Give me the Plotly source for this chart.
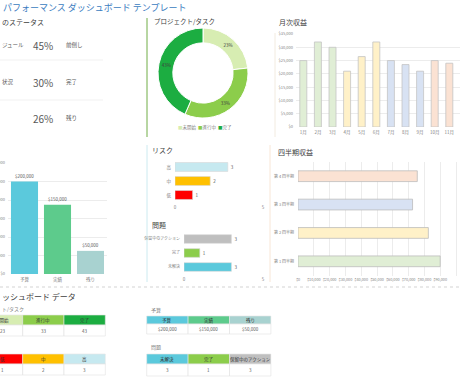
import plotly.graph_objects as go

W, H = 460, 380
def X(p): return p / W
def Y(p): return 1 - p / H

FONT = "Noto Sans CJK JP"
GRID = "#ececec"
TICK = dict(size=4.5, color="#7f7f7f", family=FONT)

# ---------------- data ----------------
title_text = "パフォーマンス ダッシュボード テンプレート"
status_heading = "のステータス"
status_labels = ["ジュール", "状況", ""]
status_pct = [45, 30, 26]
status_desc = ["前倒し", "完了", "残り"]

task_title = "プロジェクト/タスク"
task_labels = ["未開始", "進行中", "完了"]
task_values = [23, 33, 43]
task_colors = ["#d7edb2", "#8ccd4b", "#1cad41"]

month_title = "月次収益"
months = ["1月", "2月", "3月", "4月", "5月", "6月", "7月", "8月", "9月", "10月", "11月"]
month_rev = [25000, 32000, 30000, 21000, 26500, 32000, 25000, 23500, 21000, 25000, 24000]
quarter_palette = ["#e0eed5", "#fff1c8", "#d8e2f3", "#fbe2d3"]

budget_labels = ["予算", "実績", "残り"]
budget_values = [200000, 150000, 50000]
budget_colors = ["#5bc9dc", "#5dcb8c", "#a8d2d0"]

risk_title = "リスク"
risk_labels = ["低", "中", "高"]
risk_values = [1, 2, 3]
risk_colors = ["#ff0000", "#ffc000", "#c6e9f0"]

issue_title = "問題"
issue_labels = ["未解決", "完了", "保留中のアクション"]
issue_values = [3, 1, 3]
issue_colors = ["#5bc9dc", "#8ccd4b", "#bfbfbf"]

quarter_title = "四半期収益"
quarters = ["第 1 四半期", "第 2 四半期", "第 3 四半期", "第 4 四半期"]
quarter_rev = [90000, 82500, 72500, 75500]

data_title = "ッシュボード データ"
task_table_title = "ト/タスク"
budget_table_title = "予算"
issue_table_title = "問題"

fig = go.Figure()

# ---------------- donut ----------------
fig.add_trace(go.Pie(
    labels=task_labels, values=task_values, hole=0.67, sort=False,
    direction="clockwise", rotation=0,
    marker=dict(colors=task_colors, line=dict(color="white", width=1)),
    texttemplate="%{percent:.0%}", textposition="inside",
    insidetextfont=dict(size=4.5, color="#404040", family=FONT),
    domain=dict(x=[X(158), X(248)], y=[Y(118), Y(28)]),
    showlegend=False, hoverinfo="label+value"))

# ---------------- monthly revenue ----------------
mcolors = [quarter_palette[i // 3] for i in range(len(months))]
fig.add_trace(go.Bar(
    x=months, y=month_rev, marker=dict(color=mcolors, line=dict(color="#c4c4c4", width=0.8)),
    width=0.48, xaxis="x", yaxis="y", showlegend=False))

# ---------------- budget ----------------
fig.add_trace(go.Bar(
    x=budget_labels, y=budget_values, marker=dict(color=budget_colors, line=dict(width=0)),
    width=0.82, text=[f"${v:,}" for v in budget_values], textposition="outside",
    textfont=dict(size=4.5, color="#595959", family=FONT), cliponaxis=False,
    xaxis="x2", yaxis="y2", showlegend=False))

# ---------------- risk ----------------
fig.add_trace(go.Bar(
    y=risk_labels, x=risk_values, orientation="h",
    marker=dict(color=risk_colors, line=dict(color="#d9d9d9", width=0.6)),
    width=0.64, text=[str(v) for v in risk_values], textposition="outside",
    textfont=dict(size=4.5, color="#595959", family=FONT), cliponaxis=False,
    xaxis="x3", yaxis="y3", showlegend=False))

# ---------------- issues ----------------
fig.add_trace(go.Bar(
    y=issue_labels, x=issue_values, orientation="h",
    marker=dict(color=issue_colors, line=dict(color="#d9d9d9", width=0.6)),
    width=0.62, text=[str(v) for v in issue_values], textposition="outside",
    textfont=dict(size=4.5, color="#595959", family=FONT), cliponaxis=False,
    xaxis="x4", yaxis="y4", showlegend=False))

# ---------------- quarterly ----------------
fig.add_trace(go.Bar(
    y=quarters, x=quarter_rev, orientation="h",
    marker=dict(color=quarter_palette, line=dict(color="#bdbdbd", width=0.8)),
    width=0.38, xaxis="x5", yaxis="y5", showlegend=False))

ax_common = dict(zeroline=False, showline=False, ticks="", fixedrange=True,
                 automargin=False, tickangle=0)

fig.update_layout(
    template="none",
    width=W, height=H, margin=dict(l=0, r=0, t=0, b=0, pad=0),
    paper_bgcolor="white", plot_bgcolor="white", showlegend=False,
    font=dict(family=FONT, color="#404040"),
    xaxis=dict(domain=[X(296), 1], range=[-0.5, -0.5 + (460 - 296) / 14.6],
               showgrid=False, ticklabelstandoff=1, tickfont=TICK, **ax_common),
    yaxis=dict(domain=[Y(127), Y(34)], range=[0, 35000], dtick=5000, tickprefix="$",
               tickformat=",", showgrid=True, gridcolor=GRID, gridwidth=0.6,
               ticklabelstandoff=2, tickfont=dict(TICK, size=4), **ax_common),
    xaxis2=dict(domain=[X(8), X(107)], showgrid=False, anchor="y2",
                ticklabelstandoff=1, tickfont=TICK, **ax_common),
    yaxis2=dict(domain=[Y(274), Y(163)], range=[0, 240000], dtick=40000, tickprefix="$",
                tickformat=",", showgrid=True, gridcolor=GRID, gridwidth=0.6, anchor="x2",
                ticklabelstandoff=2, tickfont=dict(TICK, size=4), **ax_common),
    xaxis3=dict(domain=[X(175), X(263)], range=[0, 5], tickvals=[0, 5], showgrid=False,
                anchor="y3", ticklabelstandoff=1, tickfont=TICK, **ax_common),
    yaxis3=dict(domain=[Y(202), Y(160)], showgrid=False, anchor="x3",
                ticklabelstandoff=3, tickfont=TICK, **ax_common),
    xaxis4=dict(domain=[X(184), X(263)], range=[0, 5], tickvals=[0, 5], showgrid=False,
                anchor="y4", ticklabelstandoff=1, tickfont=TICK, **ax_common),
    yaxis4=dict(domain=[Y(274), Y(232)], showgrid=False, anchor="x4",
                ticklabelstandoff=3, tickfont=dict(TICK, size=4), **ax_common),
    xaxis5=dict(domain=[X(298), 1], range=[0, (460 - 298) / 158 * 100000], dtick=10000,
                tickprefix="$", tickformat=",", showgrid=True, gridcolor=GRID, gridwidth=0.6,
                anchor="y5", ticklabelstandoff=1, tickfont=dict(TICK, size=3.8), **ax_common),
    yaxis5=dict(domain=[Y(275.5), Y(162)], showgrid=False, anchor="x5",
                ticklabelstandoff=3, tickfont=dict(TICK, size=4), **ax_common),
)

ann = []
shapes = []

def text(x, y, s, size, color="#404040", anchor="left", bold=False):
    ann.append(dict(xref="paper", yref="paper", x=X(x), y=Y(y), text=(f"<b>{s}</b>" if bold else s),
                    showarrow=False, xanchor=anchor, yanchor="middle",
                    font=dict(size=size, color=color, family=FONT)))

def line(x0, y0, x1, y1, color, width=1, dash="solid"):
    shapes.append(dict(type="line", xref="paper", yref="paper", x0=X(x0), y0=Y(y0),
                       x1=X(x1), y1=Y(y1), line=dict(color=color, width=width, dash=dash)))

def rect(x0, y0, x1, y1, fill, lc="#dcdcdc"):
    shapes.append(dict(type="rect", xref="paper", yref="paper", x0=X(x0), y0=Y(y0),
                       x1=X(x1), y1=Y(y1), fillcolor=fill, line=dict(color=lc, width=0.6),
                       layer="below"))

# title
text(1, 8, title_text, 9, "#3a7cc0")

# status panel
text(0, 22, status_heading, 7, "#404040")
row_y = [45, 82, 118]
for lab, pct, desc, y in zip(status_labels, status_pct, status_desc, row_y):
    if lab:
        text(0, y, lab, 5.5, "#595959")
    text(43, y, f"{pct}%", 10, "#595959", anchor="center")
    text(64, y, desc, 5.5, "#595959")
line(0, 60, 103, 60, "#ededed", 0.8)
line(0, 100, 103, 100, "#ededed", 0.8)
line(147, 18, 147, 137, "#70ad47", 1)

# donut panel
text(152, 21, task_title, 6.5, "#404040")
legend_html = "  ".join(f"<span style='color:{c}'>■</span>{l}" for l, c in zip(task_labels, task_colors))
text(205, 128, legend_html, 4.5, "#7f7f7f", anchor="center")
line(275, 33, 275, 137, "#efe6d8", 0.8)

# monthly
text(277, 22, month_title, 7, "#404040")

# second row
text(150, 150, risk_title, 7, "#404040")
text(150, 225, issue_title, 7, "#404040")
text(276, 152, quarter_title, 7, "#404040")
line(147, 145, 147, 282, "#bfe4ec", 0.8)
line(270, 145, 270, 282, "#f6dfcc", 0.8)
line(0, 287, 460, 287, "#c8c8c8", 0.8, "dot")

# data section
text(0, 296, data_title, 8, "#404040")

def table(x0, colw, yh0, yh1, yv1, headers, vals, colors, label=None, label_y=None):
    if label:
        text(x0 + (2 if x0 > 0 else 19), label_y, label, 5, "#7f7f7f")
    for i, (h, v, c) in enumerate(zip(headers, vals, colors)):
        a = x0 + i * colw
        b = a + colw
        rect(a, yh0, b, yh1, c, lc="#e6e6e6")
        rect(a, yh1, b, yv1, "white", lc="#e0e0e0")
        text((a + b) / 2, (yh0 + yh1) / 2, h, 4.5, "#333333", anchor="center")
        text((a + b) / 2, (yh1 + yv1) / 2, v, 4.5, "#595959", anchor="center")

table(-18.6, 41.3, 315, 325, 336, task_labels, [str(v) for v in task_values], task_colors,
      task_table_title, 309)
table(-18.6, 41.3, 354, 364, 375, risk_labels, [str(v) for v in risk_values], risk_colors)
table(146.7, 41.4, 316, 324, 334, budget_labels, [f"${v:,}" for v in budget_values],
      budget_colors, budget_table_title, 310)
table(146.7, 41.4, 354, 364, 376, issue_labels, [str(v) for v in issue_values],
      issue_colors, issue_table_title, 347)

fig.update_layout(annotations=ann, shapes=shapes)
fig.write_html("out.html")
